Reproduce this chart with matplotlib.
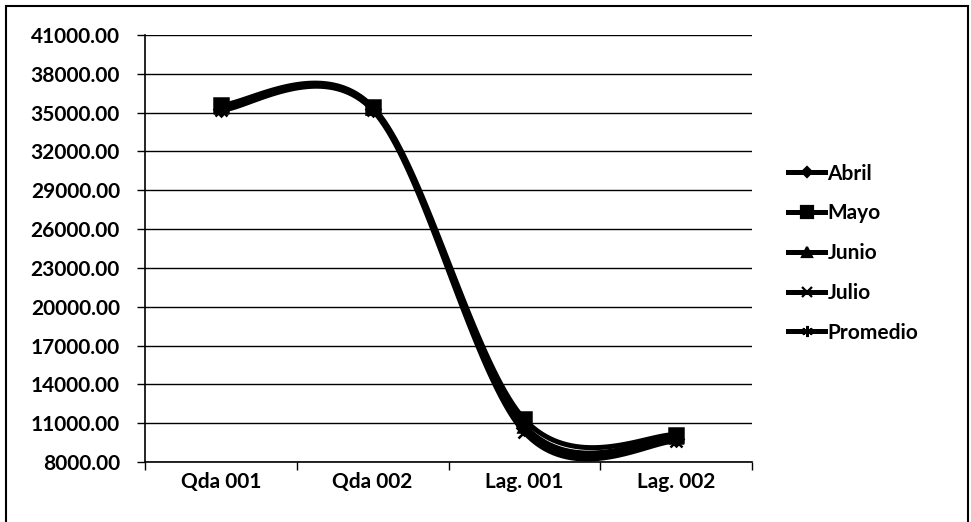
import numpy as np
import matplotlib
matplotlib.use("Agg")
import matplotlib.pyplot as plt
from matplotlib.patches import Rectangle
from matplotlib.lines import Line2D

# sampling points and monthly values
sites = ["Qda 001", "Qda 002", "Lag. 001", "Lag. 002"]
abril = [35300, 35300, 10600, 9800]
mayo = [35600, 35450, 11300, 10100]
junio = [35400, 35350, 10800, 9900]
julio = [35200, 35200, 10300, 9600]
promedio = [35380, 35330, 10750, 9850]

series = [("Abril", abril, "D", 7),
          ("Mayo", mayo, "s", 10),
          ("Junio", junio, "^", 9),
          ("Julio", julio, "x", 9),
          ("Promedio", promedio, (6, 2, 0), 10)]

y_ticks = np.arange(8000, 41001, 3000)


def smooth(xs, ys, n=40):
    # Catmull-Rom style bezier through every point (like a spreadsheet "smoothed line")
    pts = np.column_stack([xs, ys]).astype(float)
    ext = np.vstack([pts[0], pts, pts[-1]])
    out = []
    for i in range(len(pts) - 1):
        p0, p1, p2, p3 = ext[i], ext[i + 1], ext[i + 2], ext[i + 3]
        b1 = p1 + (p2 - p0) / 6
        b2 = p2 - (p3 - p1) / 6
        t = np.linspace(0, 1, n)[:, None]
        seg = ((1 - t) ** 3) * p1 + 3 * ((1 - t) ** 2) * t * b1 + 3 * (1 - t) * t ** 2 * b2 + t ** 3 * p2
        out.append(seg if i == 0 else seg[1:])
    c = np.vstack(out)
    return c[:, 0], c[:, 1]


plt.rcParams['font.family'] = ['Lato', 'DejaVu Sans']
plt.rcParams['font.weight'] = 'bold'

fig = plt.figure(figsize=(9.71, 5.22), dpi=100)
ax = fig.add_axes([0.1493, 0.1149, 0.6252, 0.8180])

x = np.arange(len(sites))
for name, vals, mk, ms in series:
    sx, sy = smooth(x, vals)
    ax.plot(sx, sy, color="black", lw=3.6, clip_on=False, zorder=3)
    ax.plot(x, vals, linestyle="none", marker=mk, markersize=ms, color="black",
            markeredgecolor="black", markeredgewidth=1.8, clip_on=False, zorder=4)

ax.set_xlim(-0.5, len(sites) - 0.5)
ax.set_ylim(8000, 41000)
ax.set_yticks(y_ticks)
ax.set_yticklabels([f"{v:.2f}" for v in y_ticks], fontsize=15, fontweight="bold")
ax.set_xticks(np.arange(-0.5, len(sites), 1.0))
ax.set_xticklabels([])
ax.set_xticks(x, minor=True)
ax.set_xticklabels(sites, minor=True, fontsize=15, fontweight="bold")
ax.tick_params(axis="x", which="minor", length=0, pad=7)
ax.tick_params(axis="x", which="major", length=6, width=1, direction="out")
ax.tick_params(axis="y", length=6, width=1, direction="out", pad=12)

ax.grid(axis="y", color="black", lw=1)
ax.set_axisbelow(True)
for s in ["top", "right"]:
    ax.spines[s].set_visible(False)
ax.spines["left"].set_linewidth(1.2)
ax.spines["bottom"].set_linewidth(1.2)

handles = [Line2D([0], [0], color="black", lw=3.6, marker=mk, markersize=ms * 0.8,
                  markeredgewidth=1.6) for _, _, mk, ms in series]
fig.legend(handles, [s[0] for s in series], loc="center left",
           bbox_to_anchor=(0.792, 0.515), frameon=False,
           handlelength=1.8, handletextpad=0.1, labelspacing=0.95,
           prop={"weight": "bold", "size": 15})

# outer chart border
fig.patches.append(Rectangle((0.006, -0.02), 0.991, 1.009, transform=fig.transFigure,
                             fill=False, edgecolor="black", lw=1.5))

fig.savefig("out.png", dpi=100)
